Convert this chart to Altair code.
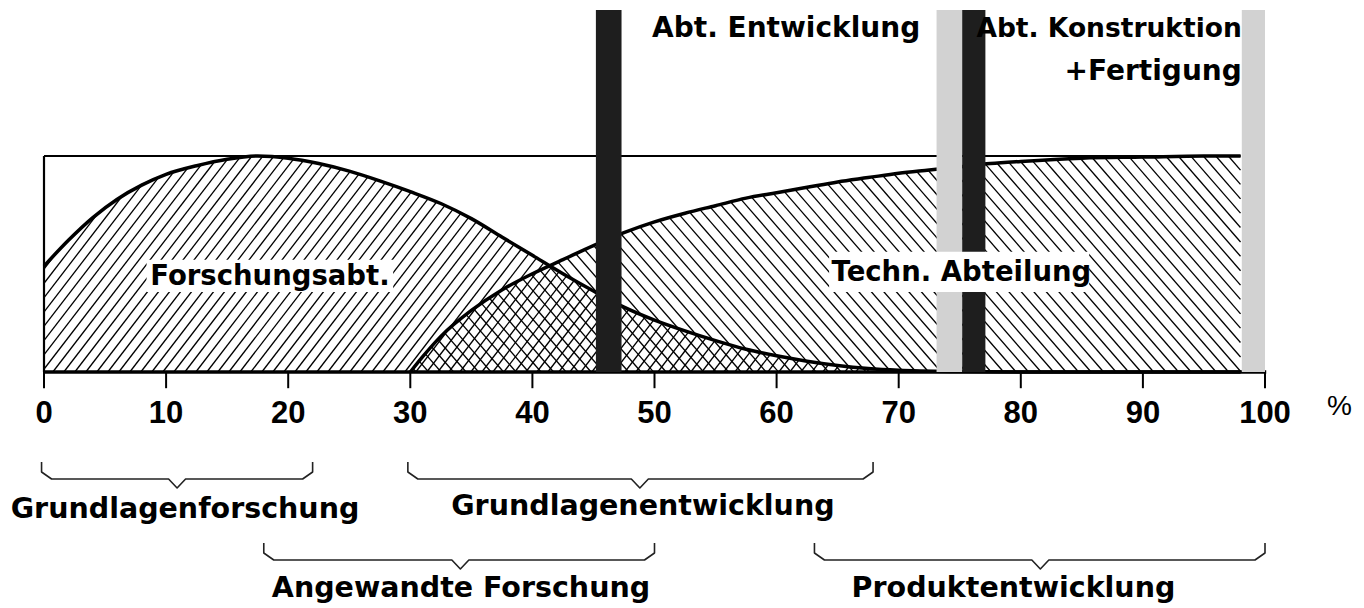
import altair as alt
import pandas as pd
import numpy as np

# ---------------- data ----------------
# x in % (0..100), y in % of the frame height (0 = baseline, 100 = top line)
forsch_x = [0, 2, 4, 6, 8, 10, 12.5, 15, 17.5, 20, 22.5, 25, 27.5, 30, 32.5, 35,
            37.5, 40, 42.5, 45, 47.5, 50, 52.5, 55, 57.5, 60, 62.5, 65, 67.5, 70, 75, 80, 98]
forsch_y = [49, 61, 71.5, 80, 86.5, 91.5, 95.5, 98.5, 100, 99, 96.5, 93, 88.5, 83.5, 78, 71,
            62.5, 54, 45.5, 37.5, 30, 24, 19, 14.5, 10.5, 7.5, 5, 3, 1.6, 0.8, 0.2, 0, 0]

techn_x = [30, 31, 32.5, 35, 37.5, 40, 42.5, 45, 47.5, 50, 52.5, 55, 57.5, 60, 62.5,
           65, 67.5, 70, 72.5, 75, 77.5, 80, 85, 90, 95, 98]
techn_y = [0, 7, 16.5, 28.5, 38, 45.5, 52, 58.5, 64.5, 69.5, 73.5, 77, 80.5, 83, 85.5,
           88, 90, 92, 93.5, 95, 96.5, 97.5, 99, 99.5, 100, 100]

# department bars
bar_x0 = [73.1, 98.1, 45.2, 75.2]
bar_x1 = [75.2, 100.0, 47.3, 77.1]
bar_kind = ["hell", "hell", "dunkel", "dunkel"]
bar_top = 167.6

tick_values = [0, 10, 20, 30, 40, 50, 60, 70, 80, 90, 100]
tick_labels = ["0", "10", "20", "30", "40", "50", "60", "70", "80", "90", "100"]

# area labels (with white background box)
area_text = ["Forschungsabt.", "Techn. Abteilung"]
area_x = [8.7, 64.5]
area_y = [40.3, 42.1]
box_x0 = [8.4, 64.3]
box_x1 = [28.6, 85.6]
box_y0 = [37.0, 37.0]
box_y1 = [52.0, 55.7]

# department titles
dept_text = ["Abt. Entwicklung", "Abt. Konstruktion", "+Fertigung"]
dept_x = [49.8, 98.1, 98.1]
dept_y = [155.1, 155.2, 135.2]
dept_align = ["left", "right", "right"]
dept_size = [28, 26.5, 28]

# phase braces
phase_text = ["Grundlagenforschung", "Grundlagenentwicklung", "Angewandte  Forschung", "Produktentwicklung"]
phase_x0 = [-0.2, 29.8, 18.0, 63.1]
phase_x1 = [22.0, 67.9, 50.0, 100.0]
phase_mid = [10.9, 48.8, 34.1, 81.6]
phase_label_x = [11.55, 49.05, 34.15, 79.4]
phase_level = [1, 1, 2, 2]

# ---------------- scales ----------------
W, H = 1346, 600
PXX = 12.21   # px per x unit
PXY = 2.16    # px per y unit
XMIN = -36 / PXX
XMAX = XMIN + W / PXX
YMAX = (372 - 8) / PXY
YMIN = YMAX - H / PXY

xs = alt.Scale(domain=[XMIN, XMAX], nice=False, zero=False)
ys = alt.Scale(domain=[YMIN, YMAX], nice=False, zero=False)


def X(f):
    return alt.X(f, type="quantitative", scale=xs, axis=None)


def Y(f):
    return alt.Y(f, type="quantitative", scale=ys, axis=None)


# ---------------- hatching ----------------
def hatch(px, py, lo, hi, k, step, direction):
    rows = []
    for x0 in np.arange(lo - 20, hi + 20, step):
        xx = np.linspace(x0 - 16, x0 + 16, 3201)
        yy = direction * k * (xx - x0)
        fx = np.interp(xx, px, py)
        inside = (xx >= lo) & (xx <= hi) & (yy >= 0) & (yy <= fx)
        edges = np.flatnonzero(np.diff(np.concatenate([[0], inside.astype(int), [0]])))
        for a, b in zip(edges[::2], edges[1::2]):
            if b - a > 2:
                rows.append(dict(x=xx[a], y=yy[a], x2=xx[b - 1], y2=yy[b - 1]))
    return rows


k_f = 1.3 * PXX / PXY
k_t = 1.15 * PXX / PXY
hatch_df = pd.DataFrame(
    hatch(forsch_x, forsch_y, 0, 98, k_f, 11 / PXX, 1)
    + hatch(techn_x, techn_y, 30, 98, k_t, 12.5 / PXX, -1)
)

hatch_layer = alt.Chart(hatch_df).mark_rule(color="black", strokeWidth=1.3).encode(
    x=X("x"), y=Y("y"), x2="x2", y2="y2"
)

curve_df = pd.concat([
    pd.DataFrame({"x": forsch_x, "y": forsch_y, "s": "F", "o": range(len(forsch_x))}),
    pd.DataFrame({"x": techn_x, "y": techn_y, "s": "T", "o": range(len(techn_x))}),
])
curve_layer = alt.Chart(curve_df).mark_line(
    color="black", strokeWidth=3.5, interpolate="monotone"
).encode(x=X("x"), y=Y("y"), detail="s:N", order="o:Q")

frame_df = pd.DataFrame({
    "x": [0, 0, 0], "x2": [98, 0, 100.1], "y": [100, 0, 0], "y2": [100, 100, 0],
    "w": [2, 2.2, 3.6],
})
frame_layer = alt.Chart(frame_df).mark_rule(color="black").encode(
    x=X("x"), y=Y("y"), x2="x2", y2="y2", strokeWidth=alt.StrokeWidth("w:Q", scale=None)
)

tick_df = pd.DataFrame({"v": tick_values, "lab": tick_labels, "y0": 0.0, "y1": -7.5, "ty": -23.6})
tick_layer = alt.Chart(tick_df).mark_rule(color="black", strokeWidth=2).encode(
    x=X("v"), y=Y("y0"), y2="y1"
)
tick_text = alt.Chart(tick_df).mark_text(
    font="Liberation Sans", fontWeight="bold", fontSize=31, align="center", baseline="alphabetic"
).encode(x=X("v"), y=Y("ty"), text="lab:N")

pct = alt.Chart(pd.DataFrame({"x": [106.1], "y": [-19.9], "t": ["%"]})).mark_text(
    font="Liberation Sans", fontSize=28, align="center", baseline="alphabetic"
).encode(x=X("x"), y=Y("y"), text="t:N")

bar_df = pd.DataFrame({"x0": bar_x0, "x1": bar_x1, "k": bar_kind, "y0": 0.0, "y1": bar_top})
bar_layer = alt.Chart(bar_df).mark_rect().encode(
    x=X("x0"), x2="x1", y=Y("y0"), y2="y1",
    color=alt.Color("k:N", scale=alt.Scale(domain=["hell", "dunkel"], range=["#d2d2d2", "#1e1e1e"]), legend=None),
)

area_df = pd.DataFrame({"t": area_text, "x": area_x, "y": area_y,
                        "bx0": box_x0, "bx1": box_x1, "by0": box_y0, "by1": box_y1})
box_layer = alt.Chart(area_df).mark_rect(color="white").encode(
    x=X("bx0"), x2="bx1", y=Y("by0"), y2="by1"
)
area_label = alt.Chart(area_df).mark_text(
    font="DejaVu Sans", fontWeight="bold", fontSize=27.5, align="left", baseline="alphabetic"
).encode(x=X("x"), y=Y("y"), text="t:N")

dept_df = pd.DataFrame({"t": dept_text, "x": dept_x, "y": dept_y, "a": dept_align, "fs": dept_size})
dept_layers = []
for al in ["left", "right"]:
    dept_layers.append(
        alt.Chart(dept_df[dept_df["a"] == al]).mark_text(
            font="DejaVu Sans", fontWeight="bold", align=al, baseline="alphabetic"
        ).encode(x=X("x"), y=Y("y"), text="t:N", size=alt.Size("fs:Q", scale=None))
    )

# brace paths
levels = {1: dict(top=462, corner=472, line=479, tip=488, text=518),
          2: dict(top=543, corner=553, line=560, tip=569, text=597)}


def py2d(p):
    return (372 - p) / PXY


cx = 10 / PXX
vx = 8.5 / PXX
brace_rows = []
label_rows = []
for i, t in enumerate(phase_text):
    L = levels[phase_level[i]]
    a, b, m = phase_x0[i], phase_x1[i], phase_mid[i]
    pts = [(a, L["top"]), (a, L["corner"]), (a + cx, L["line"]), (m - vx, L["line"]),
           (m, L["tip"]), (m + vx, L["line"]), (b - cx, L["line"]), (b, L["corner"]), (b, L["top"])]
    for j, (px_, pyy) in enumerate(pts):
        brace_rows.append(dict(x=px_, y=py2d(pyy), g=t, o=j))
    label_rows.append(dict(x=phase_label_x[i], y=py2d(L["text"] if i != 1 else 515), t=t))

brace_layer = alt.Chart(pd.DataFrame(brace_rows)).mark_line(
    color="#222222", strokeWidth=1.6, strokeJoin="round"
).encode(x=X("x"), y=Y("y"), detail="g:N", order="o:Q")
phase_label = alt.Chart(pd.DataFrame(label_rows)).mark_text(
    font="DejaVu Sans", fontWeight="bold", fontSize=28.5, align="center", baseline="alphabetic"
).encode(x=X("x"), y=Y("y"), text="t:N")

chart = alt.layer(
    hatch_layer, curve_layer, frame_layer, tick_layer, bar_layer, box_layer, area_label,
    *dept_layers, tick_text, pct, brace_layer, phase_label
).properties(
    width=W, height=H, autosize=alt.AutoSizeParams(type="none"), padding=0, background="white"
).configure_view(stroke=None)

chart.save("out.html", embed_options={"renderer": "svg", "actions": False})
